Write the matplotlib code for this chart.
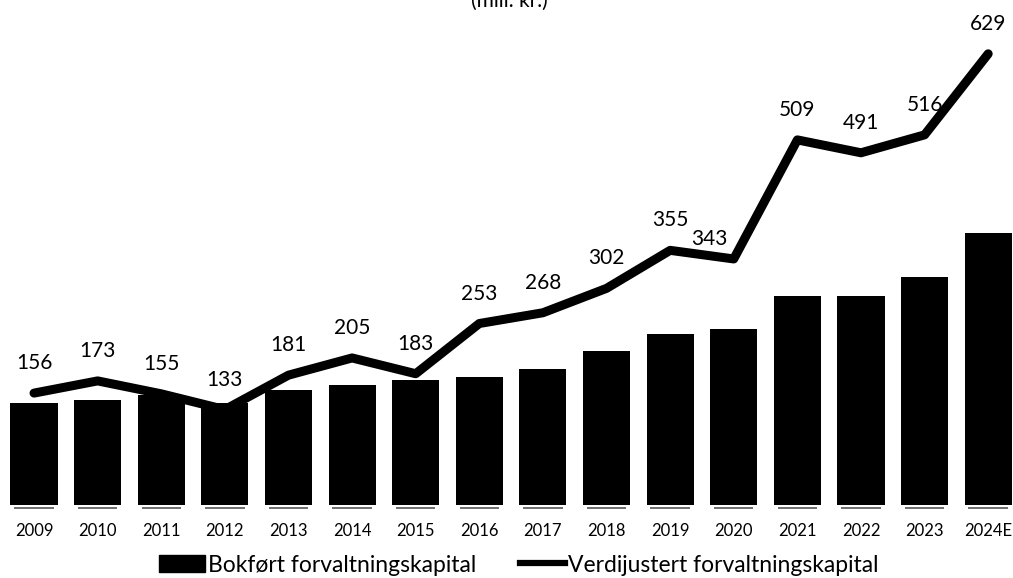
import matplotlib
matplotlib.use("Agg")
import matplotlib.pyplot as plt
from matplotlib.lines import Line2D
from matplotlib.patches import Patch

years = ["2009", "2010", "2011", "2012", "2013", "2014", "2015", "2016",
         "2017", "2018", "2019", "2020", "2021", "2022", "2023", "2024E"]
bokfort = [142, 147, 154, 142, 160, 167, 174, 178, 189, 215, 239, 246, 292, 292, 318, 379]
verdijustert = [156, 173, 155, 133, 181, 205, 183, 253, 268, 302, 355, 343, 509, 491, 516, 629]

title = "(mill. kr.)"
bar_label = "Bokført forvaltningskapital"
line_label = "Verdijustert forvaltningskapital"

plt.rcParams['font.family'] = ['Lato', 'DejaVu Sans']

fig = plt.figure(figsize=(10.13, 5.78), dpi=100)
ax = fig.add_axes([0.0, 0.1263, 1.0, 0.8737])

x = list(range(len(years)))
ax.bar(x, bokfort, width=0.74, color="black", zorder=2)
ax.hlines([-4.5] * len(x), [i - 0.31 for i in x], [i + 0.31 for i in x],
          colors="#555555", linewidth=1.2, clip_on=False, zorder=1)
ax.plot(x, verdijustert, color="black", linewidth=6.5,
        solid_joinstyle="round", solid_capstyle="round", zorder=3)

offsets = {11: (-24, 20)}
for i, v in enumerate(verdijustert):
    dx, dy = offsets.get(i, (0, 30))
    ax.annotate(str(v), (i, v), xytext=(dx, dy), textcoords="offset pixels",
                ha="center", va="center", fontsize=15, color="black", zorder=4)

ax.set_xlim(-0.535, 15.39)
ax.set_ylim(0, 704)
ax.set_xticks(x)
ax.set_xticklabels(years, fontsize=12)
ax.tick_params(axis="x", length=0, pad=13)
ax.set_yticks([])
for s in ax.spines.values():
    s.set_visible(False)

fig.text(509 / 1013, 1 - 11 / 578, title, ha="center", va="bottom", fontsize=15)

handles = [Patch(facecolor="black", edgecolor="black"),
           Line2D([0], [0], color="black", linewidth=4.5)]
fig.legend(handles, [bar_label, line_label], loc="center",
           bbox_to_anchor=(519 / 1013, 1 - 565 / 578), ncol=2, frameon=False,
           fontsize=16.5, handlelength=2.0, handleheight=0.7, handletextpad=0.12,
           columnspacing=1.9, borderpad=0, borderaxespad=0)

fig.savefig("out.png", dpi=100)
